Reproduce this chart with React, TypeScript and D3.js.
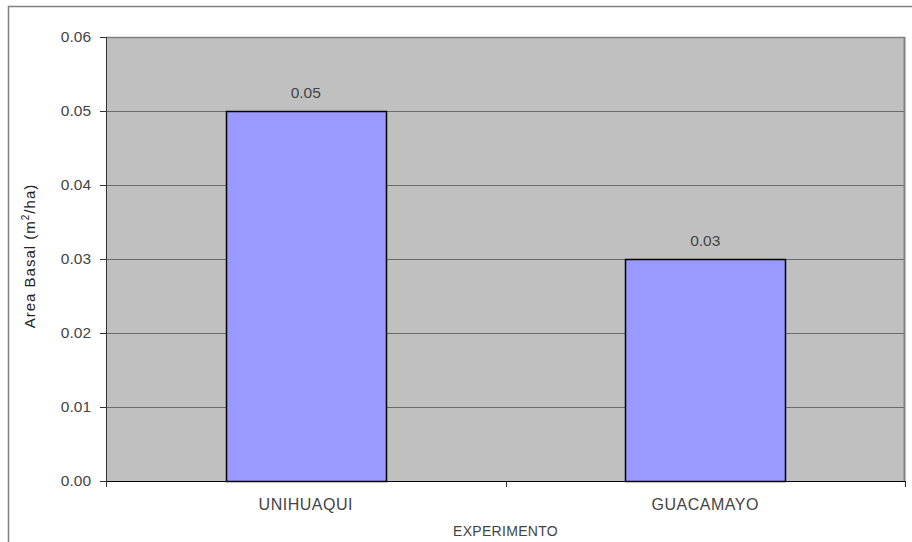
import React from "react";
import * as d3 from "d3";

const categories = ["UNIHUAQUI", "GUACAMAYO"];
const values = [0.05, 0.03];
const valueLabels = ["0.05", "0.03"];
const yTicks = [0, 0.01, 0.02, 0.03, 0.04, 0.05, 0.06];

export default function App() {
  const W = 912, H = 542;
  const left = 106, right = 905, top = 37, bottom = 481;
  const x = d3.scaleBand<string>().domain(categories).range([left, right]).paddingInner(0).paddingOuter(0);
  const y = d3.scaleLinear().domain([0, 0.06]).range([bottom, top]);
  const bw = x.bandwidth() * 0.4;
  const font = "'Liberation Sans', Arial, sans-serif";
  const txt = "#444";
  return (
    <svg width={W} height={H} style={{ position: "absolute", left: 0, top: 0, background: "#fff" }}>
      <rect x={8.5} y={6.5} width={W + 10} height={H + 10} fill="#fff" stroke="#808080" strokeWidth={1.5} />
      <rect x={left} y={top} width={right - left} height={bottom - top} fill="#C0C0C0" />
      {yTicks.map((t) => (
        <g key={t}>
          <line x1={left} x2={right} y1={Math.round(y(t)) + 0.5} y2={Math.round(y(t)) + 0.5} stroke="#6a6a6a" strokeWidth={1} />
          <line x1={left - 6} x2={left} y1={Math.round(y(t)) + 0.5} y2={Math.round(y(t)) + 0.5} stroke="#333" />
          <text x={91} y={y(t) + 4.5} textAnchor="end" fontFamily={font} fontSize={15.5} fill={txt}>
            {t.toFixed(2)}
          </text>
        </g>
      ))}
      <line x1={right - 0.5} x2={right - 0.5} y1={top} y2={bottom} stroke="#808080" strokeWidth={2} />
      <line x1={left} x2={right} y1={top + 0.5} y2={top + 0.5} stroke="#808080" strokeWidth={1.5} />
      <line x1={left + 0.5} x2={left + 0.5} y1={top} y2={bottom + 1} stroke="#333" />
      <line x1={left} x2={right} y1={bottom + 0.5} y2={bottom + 0.5} stroke="#000" />
      {[left, left + x.bandwidth(), right].map((v, i) => (
        <line key={i} x1={Math.round(v) + 0.5} x2={Math.round(v) + 0.5} y1={bottom} y2={bottom + 6} stroke="#333" />
      ))}
      {categories.map((c, i) => {
        const cx = (x(c) as number) + x.bandwidth() / 2;
        return (
          <g key={c}>
            <rect x={Math.round(cx - bw / 2) + 0.5} y={Math.round(y(values[i])) + 0.5} width={Math.round(bw)} height={Math.round(bottom - y(values[i]))} fill="#9999FF" stroke="#000" strokeWidth={1.5} />
            <text x={cx} y={y(values[i]) - 13} textAnchor="middle" fontFamily={font} fontSize={15.5} fill={txt}>
              {valueLabels[i]}
            </text>
            <text x={cx} y={510} textAnchor="middle" fontFamily={font} fontSize={16} fill={txt} letterSpacing={0.5}>
              {c}
            </text>
          </g>
        );
      })}
      <text x={(left + right) / 2} y={535.5} textAnchor="middle" fontFamily={font} fontSize={14} fill={txt} letterSpacing={0.3}>
        EXPERIMENTO
      </text>
      <text transform={`translate(30,256) rotate(-90)`} dy="0.35em" textAnchor="middle" fontFamily={font} fontSize={15} fill="#222" letterSpacing={1}>
        Area Basal (m<tspan dy="-6" fontSize={10}>2</tspan><tspan dy="6">/ha)</tspan>
      </text>
    </svg>
  );
}
